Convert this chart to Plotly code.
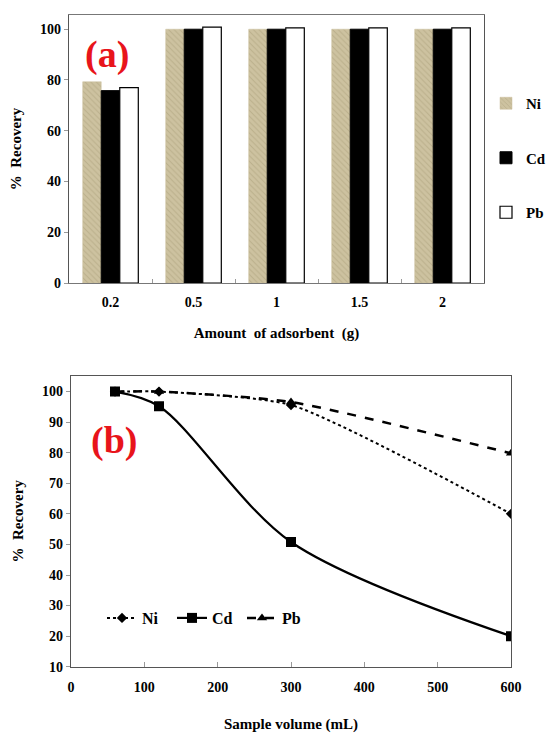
import plotly.graph_objects as go

# Panel (a) data
amounts = ["0.2", "0.5", "1", "1.5", "2"]
ni_a = [79.3, 100.0, 100.0, 100.0, 100.0]
cd_a = [75.8, 100.0, 100.0, 100.0, 100.0]
pb_a = [77.0, 100.8, 100.5, 100.5, 100.5]

# Panel (b) data
volumes = [60, 120, 300, 600]
ni_b = [100.0, 100.0, 95.6, 60.0]
cd_b = [100.0, 95.2, 50.8, 20.0]
pb_b = [100.0, 100.0, 96.6, 79.8]

SERIF = "Liberation Serif, Times New Roman, serif"
W, H = 550, 734

fig = go.Figure()

# ---------- Panel (a): grouped bars ----------
fig.add_trace(go.Bar(
    x=amounts, y=ni_a, name="Ni", legendgroup="ni", legend="legend",
    marker=dict(color="#CBBF9C", line=dict(color="#CBBF9C", width=0.5),
                pattern=dict(shape="\\", fgcolor="#A89C78", bgcolor="#CDC2A0",
                             size=4, solidity=0.25)),
    xaxis="x", yaxis="y"))
fig.add_trace(go.Bar(
    x=amounts, y=cd_a, name="Cd", legendgroup="cd", legend="legend",
    marker=dict(color="#000000", line=dict(color="#000000", width=1)),
    xaxis="x", yaxis="y"))
fig.add_trace(go.Bar(
    x=amounts, y=pb_a, name="Pb", legendgroup="pb", legend="legend",
    marker=dict(color="#FFFFFF", line=dict(color="#000000", width=1.2)),
    xaxis="x", yaxis="y"))

# ---------- Panel (b): smoothed lines ----------
fig.add_trace(go.Scatter(
    x=volumes, y=ni_b, name="Ni", mode="lines+markers", legend="legend2",
    line=dict(color="black", width=2, dash="dot", shape="spline", smoothing=0.6),
    marker=dict(symbol="diamond", size=8, color="black"),
    xaxis="x2", yaxis="y2"))
fig.add_trace(go.Scatter(
    x=volumes, y=cd_b, name="Cd", mode="lines+markers", legend="legend2",
    line=dict(color="black", width=2.2, shape="spline", smoothing=0.9),
    marker=dict(symbol="square", size=10, color="black"),
    xaxis="x2", yaxis="y2"))
fig.add_trace(go.Scatter(
    x=volumes, y=pb_b, name="Pb", mode="lines+markers", legend="legend2",
    line=dict(color="black", width=2.5, dash="dash", shape="spline", smoothing=0.6),
    marker=dict(symbol="triangle-up", size=9, color="black"),
    xaxis="x2", yaxis="y2"))

tickfont = dict(family=SERIF, size=14, color="black", weight="bold")
titlefont = dict(family=SERIF, size=15, color="black", weight="bold")

def px_x(p):
    return p / W

def px_y(p):
    return 1 - p / H

fig.update_layout(
    width=W, height=H,
    margin=dict(l=0, r=0, t=0, b=0, autoexpand=False),
    paper_bgcolor="white", plot_bgcolor="white",
    barmode="group", bargap=0.33, bargroupgap=0,
    font=dict(family=SERIF, color="black"),
    xaxis=dict(domain=[px_x(69), px_x(484)], type="category", anchor="y",
               showline=True, linecolor="#777", linewidth=1.2, mirror=True,
               ticks="inside", tickson="boundaries", ticklen=4, tickcolor="#999",
               tickfont=tickfont, showgrid=False, ticklabelstandoff=6,
               title=dict(text="Amount  of adsorbent  (g)", font=titlefont, standoff=18)),
    yaxis=dict(domain=[px_y(283), px_y(15)], range=[0, 105.6], anchor="x",
               tickvals=[0, 20, 40, 60, 80, 100],
               showline=True, linecolor="#555", linewidth=1.2, mirror=True,
               ticks="outside", ticklen=4, tickcolor="#999",
               tickfont=tickfont, showgrid=False, zeroline=False,
               title=dict(text="%  Recovery", font=titlefont, standoff=14)),
    xaxis2=dict(domain=[px_x(71), px_x(511)], range=[0, 600], anchor="y2",
                tickvals=[0, 100, 200, 300, 400, 500, 600],
                showline=True, linecolor="#555", linewidth=1.2, mirror=True,
                ticks="inside", ticklen=5, tickcolor="#999",
                tickfont=tickfont, showgrid=False, zeroline=False, ticklabelstandoff=7,
                title=dict(text="Sample volume (mL)", font=titlefont, standoff=24)),
    yaxis2=dict(domain=[px_y(666.7), px_y(376)], range=[10, 105.1], anchor="x2",
                tickvals=[10, 20, 30, 40, 50, 60, 70, 80, 90, 100],
                showline=True, linecolor="#555", linewidth=1.2, mirror=True,
                ticks="outside", ticklen=4, tickcolor="#999",
                tickfont=tickfont, showgrid=False, zeroline=False,
                title=dict(text="%  Recovery", font=titlefont, standoff=14)),
    legend=dict(x=px_x(486), y=px_y(87), xanchor="left", yanchor="top",
                orientation="v", tracegroupgap=32, itemwidth=30,
                font=dict(family=SERIF, size=15, color="black", weight="bold"),
                bgcolor="rgba(0,0,0,0)", traceorder="grouped"),
    legend2=dict(x=px_x(102), y=px_y(618), xanchor="left", yanchor="middle",
                 orientation="h", itemwidth=30, entrywidth=25, entrywidthmode="pixels",
                 font=dict(family=SERIF, size=16, color="black", weight="bold"),
                 bgcolor="rgba(0,0,0,0)"),
    annotations=[
        dict(text="(a)", x=px_x(107), y=px_y(55), xref="paper", yref="paper",
             xanchor="center", yanchor="middle",
             showarrow=False, font=dict(family=SERIF, size=38, color="#E8141B", weight="bold")),
        dict(text="(b)", x=px_x(114), y=px_y(440), xref="paper", yref="paper",
             xanchor="center", yanchor="middle",
             showarrow=False, font=dict(family=SERIF, size=38, color="#E8141B", weight="bold")),
    ],
)

fig.write_html("out.html")
